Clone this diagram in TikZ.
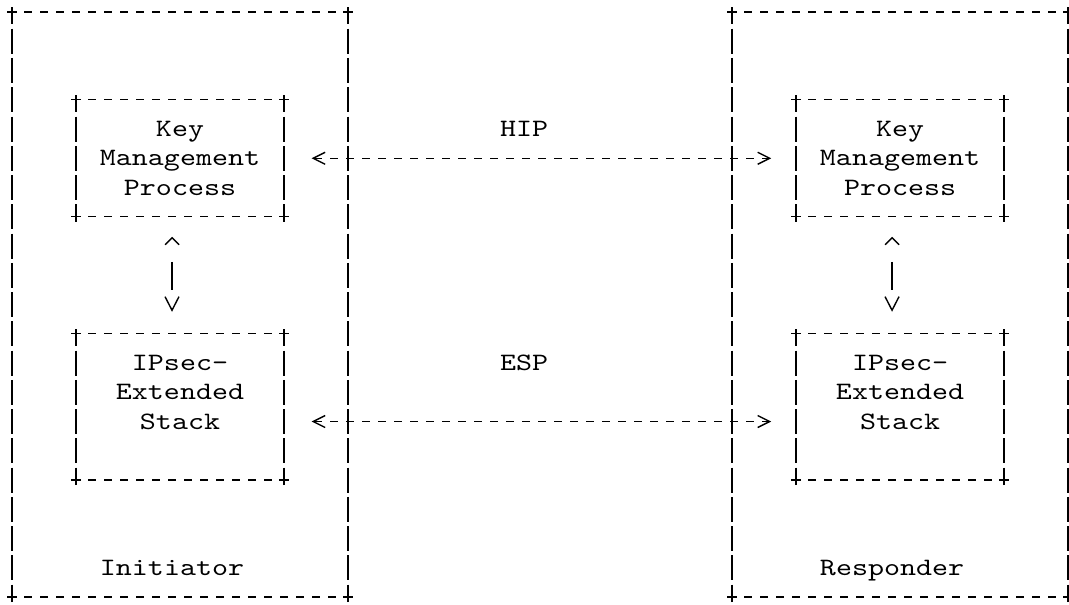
\documentclass[tikz,border=0pt]{standalone}
\usepackage{fontspec}
\newfontfamily\asciifont{lmmono10-regular.otf}[FakeStretch=1.22]
\usetikzlibrary{arrows.meta}

\tikzset{
    rule/.style={line width=0.7pt},
    hrule/.style={rule, dash pattern=on 4pt off 4pt, dash phase=2pt},
    vrule/.style={rule, dash pattern=on 12.5pt off 2.125pt, dash phase=6.25pt},
    box/.style={inner sep=0pt, outer sep=0pt, align=center, text depth=0pt,
        font=\asciifont\fontsize{12.5pt}{14.625pt}\selectfont},
    link/.style={rule, dash pattern=on 4pt off 4pt, dash phase=7.84pt,
        {Straight Barb[length=6pt,width=6pt]}-{Straight Barb[length=6pt,width=6pt]},
        shorten <=13.8pt, shorten >=12.4pt},
    updown/.style={rule, dash pattern=on 14.2pt off 25.8pt, dash phase=28.35pt,
        {Straight Barb[length=3.5pt,width=7pt]}-{Straight Barb[length=6.8pt,width=7pt]},
        shorten <=10pt, shorten >=11pt},
}

\newcommand{\asciibox}[1]{
    \draw[hrule] (#1.north west) -- (#1.north east);
    \draw[hrule] (#1.south west) -- (#1.south east);
    \draw[vrule] (#1.north west) -- (#1.south west);
    \draw[vrule] (#1.north east) -- (#1.south east);
    \foreach \corner in {north west,north east,south west,south east}
        \draw[rule] (#1.\corner) +(-2.5pt,0) -- +(2.5pt,0) +(0,-2.5pt) -- +(0,2.5pt);
}

\begin{document}
\begin{tikzpicture}[x=8pt, y=-14.625pt]
    \useasboundingbox (-0.75,-0.41) rectangle (66.06,20.24);

    \node[box, minimum width=168pt, minimum height=292.5pt] (initiator) at (10.5,10) {};
    \node[box, minimum width=168pt, minimum height=292.5pt] (responder) at (55.5,10) {};

    \node[box, minimum width=104pt, minimum height=58.5pt] (keyInit) at (10.5,5) {Key\\Management\\Process};
    \node[box, minimum width=104pt, minimum height=73.125pt] (stackInit) at (10.5,13.5) {IPsec-\\Extended\\Stack\\~};

    \node[box, minimum width=104pt, minimum height=58.5pt] (keyResp) at (55.5,5) {Key\\Management\\Process};
    \node[box, minimum width=104pt, minimum height=73.125pt] (stackResp) at (55.5,13.5) {IPsec-\\Extended\\Stack\\~};

    \node[box] (hipName) at (32,4) {HIP};
    \node[box] (espName) at (32,12) {ESP};
    \node[box] (initName) at (10,19) {Initiator};
    \node[box] (respName) at (55,19) {Responder};

    \asciibox{initiator}
    \asciibox{responder}
    \asciibox{keyInit}
    \asciibox{stackInit}
    \asciibox{keyResp}
    \asciibox{stackResp}

    \draw[link] (keyInit) -- (keyResp);
    \draw[link] ([yshift=-7.3125pt]stackInit.east) -- ([yshift=-7.3125pt]stackResp.west);

    \draw[updown] ([xshift=-4pt]keyInit.south) -- ([xshift=-4pt]stackInit.north);
    \draw[updown] ([xshift=-4pt]keyResp.south) -- ([xshift=-4pt]stackResp.north);
\end{tikzpicture}
\end{document}
